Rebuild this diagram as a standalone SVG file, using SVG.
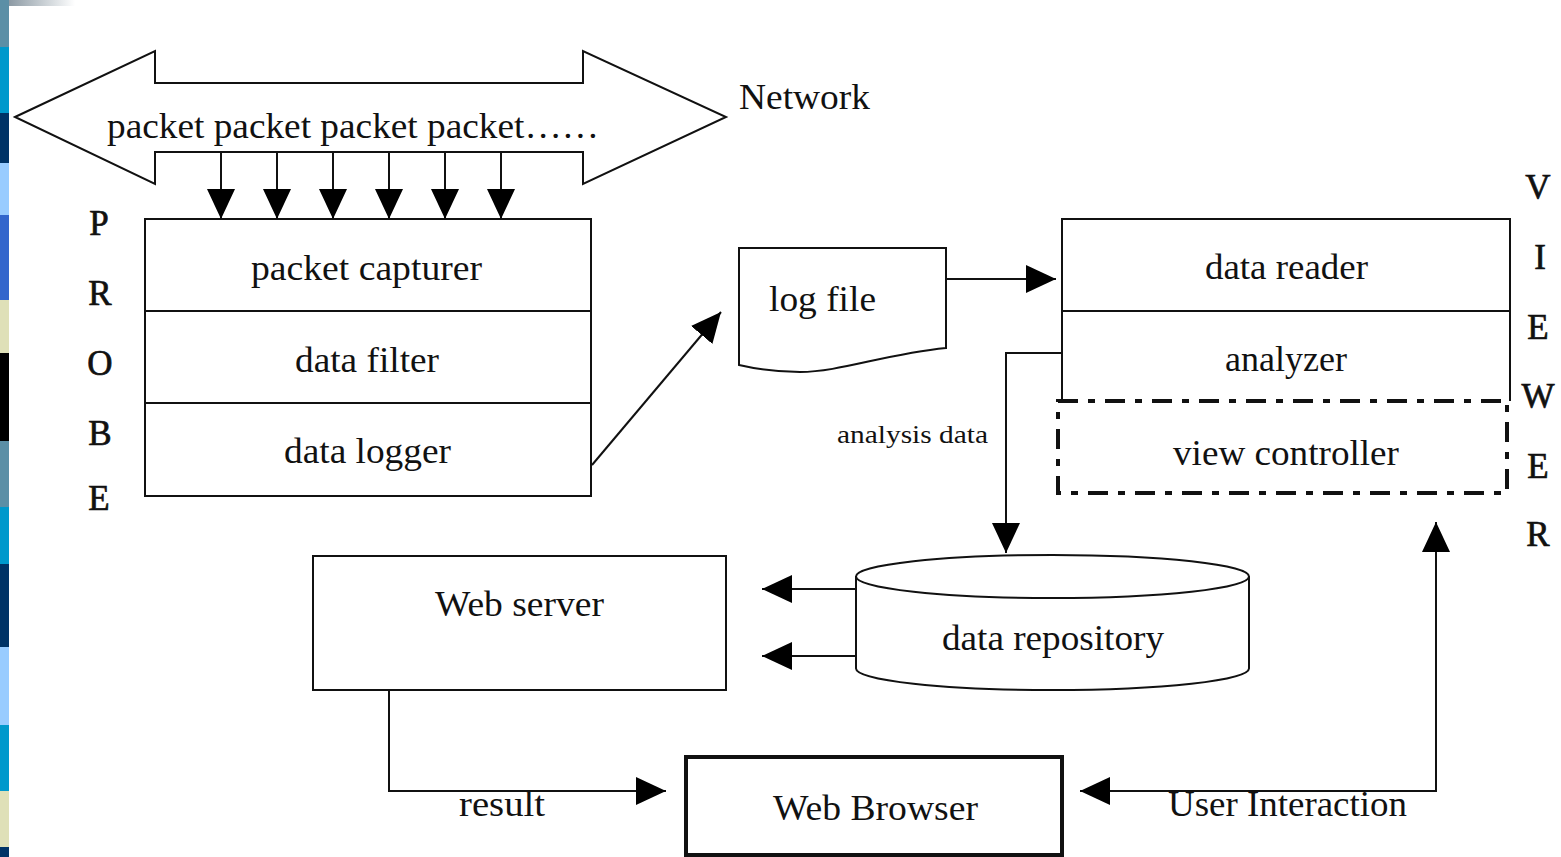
<svg xmlns="http://www.w3.org/2000/svg" width="1561" height="857" viewBox="0 0 1561 857">
  <style>
    .ln { fill: none; stroke: #111; stroke-width: 2; }
    .box { fill: #fff; stroke: #111; stroke-width: 2; }
    .t { font-family: "Liberation Serif", "Times New Roman", serif; font-size: 36px; fill: #111; }
    .sm { font-size: 26px; }
    .ltr { font-family: "Liberation Serif", "Times New Roman", serif; font-size: 35px; fill: #111; stroke: #111; stroke-width: 0.7; text-anchor: middle; }
    .arr { marker-end: url(#head); }
  </style>
  <defs>
    <marker id="head" markerUnits="userSpaceOnUse" markerWidth="30" markerHeight="28" refX="30" refY="14" orient="auto-start-reverse">
      <path d="M0,0 L30,14 L0,28 Z" fill="#000"/>
    </marker>
    <linearGradient id="fade" x1="0" y1="0" x2="1" y2="0">
      <stop offset="0" stop-color="#8c9aa4"/>
      <stop offset="1" stop-color="#ffffff"/>
    </linearGradient>
  </defs>

  <rect width="1561" height="857" fill="#fff"/>

  <!-- slide edge bands -->
  <g id="edge">
    <rect x="0" y="0" width="9" height="47" fill="#5b8fa6"/>
    <rect x="0" y="47" width="9" height="66" fill="#0099cc"/>
    <rect x="0" y="113" width="9" height="50" fill="#003366"/>
    <rect x="0" y="163" width="9" height="52" fill="#99ccff"/>
    <rect x="0" y="215" width="9" height="85" fill="#3366cc"/>
    <rect x="0" y="300" width="9" height="53" fill="#dfe0b8"/>
    <rect x="0" y="353" width="9" height="88" fill="#000000"/>
    <rect x="0" y="441" width="9" height="66" fill="#5b8fa6"/>
    <rect x="0" y="507" width="9" height="57" fill="#0099cc"/>
    <rect x="0" y="564" width="9" height="83" fill="#003366"/>
    <rect x="0" y="647" width="9" height="78" fill="#99ccff"/>
    <rect x="0" y="725" width="9" height="66" fill="#0099cc"/>
    <rect x="0" y="791" width="9" height="56" fill="#dfe0b8"/>
    <rect x="0" y="847" width="9" height="10" fill="#003366"/>
    <rect x="9" y="0" width="66" height="6" fill="url(#fade)"/>
  </g>

  <!-- network double arrow -->
  <g id="network">
    <path class="box" d="M15,117 L155,51 L155,83 L583,83 L583,51 L726,117 L583,184 L583,152 L155,152 L155,184 Z"/>
    <text class="t" x="107" y="138" textLength="492" lengthAdjust="spacingAndGlyphs">packet packet packet packet……</text>
    <text class="t" x="739" y="109" textLength="131" lengthAdjust="spacingAndGlyphs">Network</text>
  </g>

  <!-- probe -->
  <g id="probe">
    <rect class="box" x="145" y="219" width="446" height="277"/>
    <path class="ln" d="M145,311 H591 M145,403 H591"/>
    <text class="t" x="251" y="280" textLength="231" lengthAdjust="spacingAndGlyphs">packet capturer</text>
    <text class="t" x="295" y="372" textLength="144" lengthAdjust="spacingAndGlyphs">data filter</text>
    <text class="t" x="284" y="463" textLength="167" lengthAdjust="spacingAndGlyphs">data logger</text>
    <text class="ltr" x="99" y="235">P</text>
    <text class="ltr" x="100" y="305">R</text>
    <text class="ltr" x="100" y="375">O</text>
    <text class="ltr" x="100" y="445">B</text>
    <text class="ltr" x="99" y="510">E</text>
  </g>

  <!-- log file document -->
  <g id="logfile">
    <path class="box" d="M739,248 H946 V348 C885,354 840,372 800,372 C772,372 752,368 739,365 Z"/>
    <text class="t" x="769" y="311" textLength="107" lengthAdjust="spacingAndGlyphs">log file</text>
  </g>

  <!-- viewer -->
  <g id="viewer">
    <path class="box" d="M1062,401 V219 H1510 V401"/>
    <path class="ln" d="M1062,311 H1510"/>
    <rect x="1058" y="401" width="449" height="92" fill="none" stroke="#111" stroke-width="4" stroke-dasharray="20 10 7 10"/>
    <text class="t" x="1205" y="279" textLength="163" lengthAdjust="spacingAndGlyphs">data reader</text>
    <text class="t" x="1225" y="371" textLength="122" lengthAdjust="spacingAndGlyphs">analyzer</text>
    <text class="t" x="1173" y="465" textLength="226" lengthAdjust="spacingAndGlyphs">view controller</text>
    <text class="ltr" x="1538" y="199">V</text>
    <text class="ltr" x="1540" y="269">I</text>
    <text class="ltr" x="1538" y="339">E</text>
    <text class="ltr" x="1538" y="408">W</text>
    <text class="ltr" x="1538" y="478">E</text>
    <text class="ltr" x="1538" y="546">R</text>
  </g>

  <!-- data repository cylinder -->
  <g id="repository">
    <path class="box" d="M856,576.5 A196.5,21.5 0 0 1 1249,576.5 V668.5 A196.5,21.5 0 0 1 856,668.5 Z"/>
    <path class="ln" d="M856,576.5 A196.5,21.5 0 0 0 1249,576.5"/>
    <text class="t" x="942" y="650" textLength="222" lengthAdjust="spacingAndGlyphs">data repository</text>
  </g>

  <!-- web server -->
  <g id="webserver">
    <rect class="box" x="313" y="556" width="413" height="134"/>
    <text class="t" x="435" y="616" textLength="169" lengthAdjust="spacingAndGlyphs">Web server</text>
  </g>

  <!-- web browser -->
  <g id="webbrowser">
    <rect x="686" y="757" width="376" height="98" fill="#fff" stroke="#111" stroke-width="4"/>
    <text class="t" x="773" y="820" textLength="205" lengthAdjust="spacingAndGlyphs">Web Browser</text>
  </g>

  <!-- connectors -->
  <g id="connectors">
    <line class="ln arr" x1="221" y1="152" x2="221" y2="219"/>
    <line class="ln arr" x1="277" y1="152" x2="277" y2="219"/>
    <line class="ln arr" x1="333" y1="152" x2="333" y2="219"/>
    <line class="ln arr" x1="389" y1="152" x2="389" y2="219"/>
    <line class="ln arr" x1="445" y1="152" x2="445" y2="219"/>
    <line class="ln arr" x1="501" y1="152" x2="501" y2="219"/>
    <line class="ln arr" x1="592" y1="465" x2="721" y2="312" stroke-width="1.5"/>
    <line class="ln arr" x1="946" y1="279" x2="1056" y2="279"/>
    <polyline class="ln arr" points="1062,353 1006,353 1006,553"/>
    <text class="t sm" x="837" y="443" textLength="151" lengthAdjust="spacingAndGlyphs">analysis data</text>
    <line class="ln arr" x1="856" y1="589" x2="762" y2="589"/>
    <line class="ln arr" x1="856" y1="656" x2="762" y2="656"/>
    <polyline class="ln arr" points="389,690 389,791 666,791"/>
    <text class="t" x="459" y="816" textLength="86" lengthAdjust="spacingAndGlyphs">result</text>
    <path class="ln" d="M1080,791 H1436 V522" marker-start="url(#head)" marker-end="url(#head)"/>
    <text class="t" x="1168" y="816" textLength="239" lengthAdjust="spacingAndGlyphs">User Interaction</text>
  </g>
</svg>
